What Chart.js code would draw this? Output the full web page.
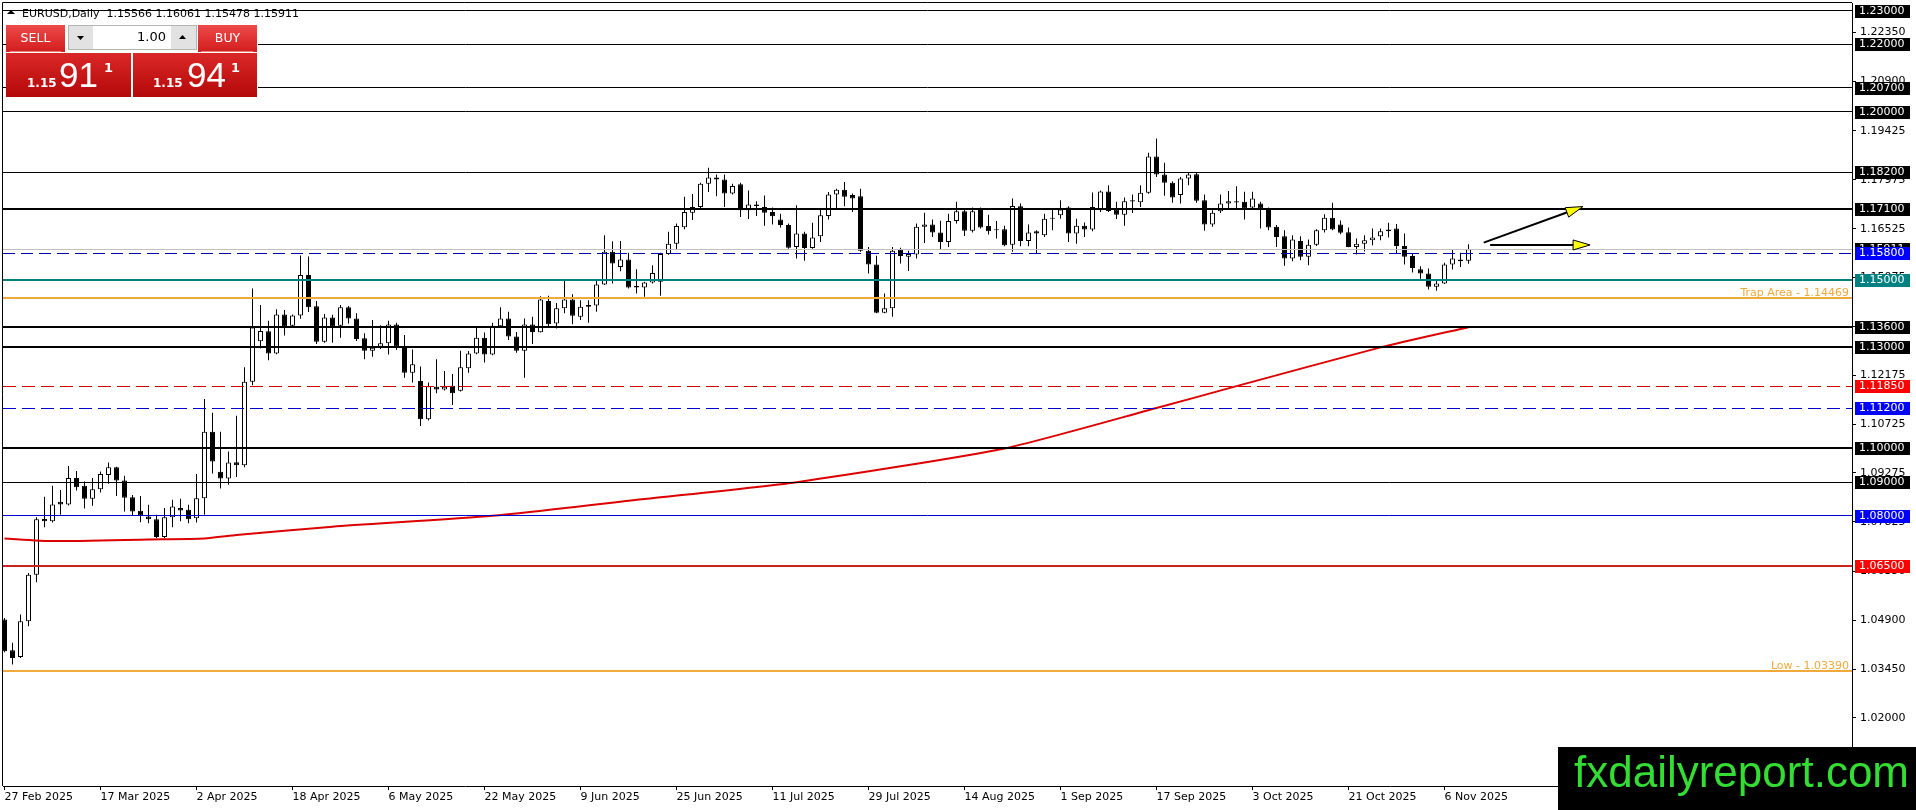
<!DOCTYPE html>
<html>
<head>
<meta charset="utf-8">
<title>EURUSD Daily</title>
<script src="https://cdn.jsdelivr.net/npm/chart.js@4.4.1/dist/chart.umd.min.js"></script>
<style>
  html, body { margin: 0; padding: 0; background: #ffffff; }
  #chart { display: block; width: 1916px; height: 810px; }
</style>
</head>
<body>
<canvas id="chart" width="1916" height="810"></canvas>
<script>
// header line
const symbolTitle = 'EURUSD,Daily  1.15566 1.16061 1.15478 1.15911';

// date labels every 12 bars
const xTickBars = [0, 12, 24, 36, 48, 60, 72, 84, 96, 108, 120, 132, 144, 156, 168, 180];
const xTickLabels = ['27 Feb 2025', '17 Mar 2025', '2 Apr 2025', '18 Apr 2025', '6 May 2025', '22 May 2025',
  '9 Jun 2025', '25 Jun 2025', '11 Jul 2025', '29 Jul 2025', '14 Aug 2025', '1 Sep 2025',
  '17 Sep 2025', '3 Oct 2025', '21 Oct 2025', '6 Nov 2025'];

// price scale ticks
const yTickValues = [1.02000, 1.03450, 1.04900, 1.06350, 1.07825, 1.09275, 1.10725, 1.12175,
  1.13625, 1.15075, 1.16525, 1.17975, 1.19425, 1.20900, 1.22350];

// daily candles, oldest first
const opens = [
  1.0492, 1.0401, 1.0381, 1.0487, 1.0625, 1.0791, 1.0784, 1.0842, 1.0834, 1.0912,
  1.0889, 1.0851, 1.0879, 1.0921, 1.0944, 1.0905, 1.0855, 1.0815, 1.0798, 1.0790,
  1.0737, 1.0796, 1.0823, 1.0818, 1.0793, 1.0852, 1.1050, 1.0931, 1.0911, 1.0959,
  1.0950, 1.1198, 1.1318, 1.1348, 1.1282, 1.1398, 1.1364, 1.1395, 1.1515, 1.1422,
  1.1317, 1.1389, 1.1364, 1.1419, 1.1386, 1.1327, 1.1290, 1.1302, 1.1312, 1.1368,
  1.1302, 1.1225, 1.1200, 1.1087, 1.1183, 1.1175, 1.1186, 1.1171, 1.1238, 1.1282,
  1.1329, 1.1279, 1.1363, 1.1386, 1.1332, 1.1290, 1.1368, 1.1345, 1.1438, 1.1371,
  1.1416, 1.1442, 1.1391, 1.1421, 1.1424, 1.1487, 1.1584, 1.1539, 1.1561, 1.1482,
  1.1478, 1.1493, 1.1495, 1.1577, 1.1608, 1.1657, 1.1700, 1.1717, 1.1786, 1.1804,
  1.1798, 1.1757, 1.1784, 1.1707, 1.1724, 1.1717, 1.1702, 1.1680, 1.1663, 1.1598,
  1.1638, 1.1595, 1.1630, 1.1690, 1.1754, 1.1768, 1.1752, 1.1749, 1.1587, 1.1546,
  1.1403, 1.1416, 1.1591, 1.1569, 1.1576, 1.1658, 1.1665, 1.1641, 1.1613, 1.1675,
  1.1704, 1.1646, 1.1712, 1.1660, 1.1651, 1.1651, 1.1605, 1.1719, 1.1616, 1.1645,
  1.1633, 1.1685, 1.1692, 1.1715, 1.1638, 1.1661, 1.1650, 1.1707, 1.1763, 1.1709,
  1.1694, 1.1737, 1.1731, 1.1759, 1.1867, 1.1813, 1.1789, 1.1752, 1.1801, 1.1814,
  1.1737, 1.1665, 1.1704, 1.1727, 1.1734, 1.1732, 1.1715, 1.1727, 1.1712, 1.1658,
  1.1630, 1.1564, 1.1616, 1.1569, 1.1605, 1.1648, 1.1685, 1.1665, 1.1642, 1.1598,
  1.1608, 1.1618, 1.1630, 1.1645, 1.1653, 1.1601, 1.1571, 1.1532, 1.1519, 1.1480,
  1.1490, 1.1546, 1.1561, 1.1557
];
const highs = [
  1.0497, 1.0423, 1.0507, 1.0630, 1.0796, 1.0857, 1.0889, 1.0877, 1.0948, 1.0933,
  1.0902, 1.0912, 1.0932, 1.0958, 1.0946, 1.0919, 1.0862, 1.0859, 1.0833, 1.0803,
  1.0823, 1.0848, 1.0851, 1.0833, 1.0924, 1.1147, 1.1106, 1.1050, 1.0991, 1.1097,
  1.1241, 1.1475, 1.1426, 1.1379, 1.1413, 1.1411, 1.1398, 1.1573, 1.1570, 1.1438,
  1.1399, 1.1397, 1.1426, 1.1423, 1.1401, 1.1342, 1.1381, 1.1366, 1.1379, 1.1373,
  1.1337, 1.1294, 1.1243, 1.1196, 1.1265, 1.1230, 1.1221, 1.1290, 1.1289, 1.1358,
  1.1344, 1.1373, 1.1419, 1.1406, 1.1346, 1.1386, 1.1391, 1.1452, 1.1453, 1.1432,
  1.1498, 1.1458, 1.1440, 1.1440, 1.1500, 1.1633, 1.1615, 1.1616, 1.1581, 1.1532,
  1.1495, 1.1544, 1.1581, 1.1643, 1.1668, 1.1747, 1.1755, 1.1789, 1.1833, 1.1813,
  1.1813, 1.1786, 1.1789, 1.1766, 1.1734, 1.1751, 1.1715, 1.1697, 1.1668, 1.1722,
  1.1643, 1.1670, 1.1714, 1.1761, 1.1771, 1.1791, 1.1757, 1.1771, 1.1598, 1.1572,
  1.1460, 1.1598, 1.1596, 1.1587, 1.1668, 1.1700, 1.1680, 1.1676, 1.1697, 1.1732,
  1.1714, 1.1715, 1.1715, 1.1694, 1.1675, 1.1661, 1.1742, 1.1727, 1.1665, 1.1648,
  1.1697, 1.1709, 1.1737, 1.1719, 1.1682, 1.1671, 1.1760, 1.1766, 1.1781, 1.1732,
  1.1745, 1.1754, 1.1781, 1.1878, 1.1920, 1.1848, 1.1793, 1.1806, 1.1819, 1.1819,
  1.1754, 1.1707, 1.1754, 1.1764, 1.1778, 1.1762, 1.1762, 1.1732, 1.1715, 1.1663,
  1.1648, 1.1633, 1.1630, 1.1620, 1.1651, 1.1695, 1.1729, 1.1677, 1.1656, 1.1623,
  1.1633, 1.1653, 1.1653, 1.1670, 1.1666, 1.1638, 1.1579, 1.1541, 1.1534, 1.1500,
  1.1551, 1.1590, 1.1581, 1.1606
];
const lows = [
  1.0395, 1.0359, 1.0378, 1.0472, 1.0603, 1.0766, 1.0780, 1.0803, 1.0831, 1.0875,
  1.0822, 1.0830, 1.0869, 1.0895, 1.0859, 1.0813, 1.0800, 1.0781, 1.0778, 1.0734,
  1.0734, 1.0766, 1.0784, 1.0778, 1.0780, 1.0803, 1.0926, 1.0881, 1.0892, 1.0915,
  1.0944, 1.1188, 1.1297, 1.1262, 1.1280, 1.1335, 1.1362, 1.1385, 1.1405, 1.1310,
  1.1314, 1.1314, 1.1329, 1.1371, 1.1319, 1.1265, 1.1272, 1.1295, 1.1279, 1.1292,
  1.1210, 1.1196, 1.1067, 1.1083, 1.1164, 1.1172, 1.1129, 1.1169, 1.1225, 1.1280,
  1.1255, 1.1277, 1.1361, 1.1322, 1.1284, 1.1210, 1.1310, 1.1344, 1.1361, 1.1356,
  1.1401, 1.1369, 1.1381, 1.1373, 1.1406, 1.1485, 1.1490, 1.1526, 1.1475, 1.1460,
  1.1450, 1.1490, 1.1453, 1.1575, 1.1591, 1.1651, 1.1678, 1.1714, 1.1761, 1.1749,
  1.1717, 1.1754, 1.1687, 1.1681, 1.1690, 1.1661, 1.1665, 1.1656, 1.1593, 1.1564,
  1.1557, 1.1593, 1.1613, 1.1680, 1.1712, 1.1719, 1.1702, 1.1584, 1.1519, 1.1401,
  1.1401, 1.1391, 1.1549, 1.1527, 1.1564, 1.1610, 1.1628, 1.1591, 1.1598, 1.1668,
  1.1631, 1.1641, 1.1653, 1.1635, 1.1623, 1.1600, 1.1584, 1.1600, 1.1600, 1.1577,
  1.1628, 1.1648, 1.1682, 1.1613, 1.1608, 1.1628, 1.1645, 1.1702, 1.1702, 1.1681,
  1.1661, 1.1699, 1.1717, 1.1756, 1.1806, 1.1750, 1.1729, 1.1727, 1.1781, 1.1729,
  1.1646, 1.1658, 1.1699, 1.1712, 1.1712, 1.1680, 1.1712, 1.1653, 1.1648, 1.1598,
  1.1542, 1.1556, 1.1559, 1.1544, 1.1601, 1.1641, 1.1648, 1.1636, 1.1597, 1.1576,
  1.1585, 1.1603, 1.1618, 1.1626, 1.1579, 1.1546, 1.1522, 1.1504, 1.1472, 1.1468,
  1.1488, 1.1531, 1.1539, 1.1548
];
const closes = [
  1.0398, 1.0378, 1.0487, 1.0625, 1.0790, 1.0784, 1.0834, 1.0834, 1.0912, 1.0885,
  1.0851, 1.0879, 1.0924, 1.0944, 1.0905, 1.0854, 1.0813, 1.0801, 1.0790, 1.0737,
  1.0796, 1.0828, 1.0816, 1.0790, 1.0852, 1.1050, 1.0961, 1.0911, 1.0958, 1.0950,
  1.1198, 1.1359, 1.1349, 1.1282, 1.1398, 1.1361, 1.1395, 1.1515, 1.1419, 1.1317,
  1.1389, 1.1361, 1.1419, 1.1386, 1.1325, 1.1290, 1.1299, 1.1312, 1.1368, 1.1302,
  1.1225, 1.1250, 1.1087, 1.1185, 1.1175, 1.1183, 1.1164, 1.1241, 1.1282, 1.1329,
  1.1279, 1.1364, 1.1386, 1.1332, 1.1290, 1.1368, 1.1346, 1.1442, 1.1369, 1.1416,
  1.1442, 1.1394, 1.1421, 1.1426, 1.1487, 1.1584, 1.1549, 1.1561, 1.1478, 1.1478,
  1.1493, 1.1521, 1.1577, 1.1608, 1.1660, 1.1702, 1.1717, 1.1786, 1.1804, 1.1798,
  1.1757, 1.1779, 1.1707, 1.1724, 1.1720, 1.1700, 1.1689, 1.1663, 1.1596, 1.1638,
  1.1595, 1.1626, 1.1692, 1.1754, 1.1768, 1.1747, 1.1742, 1.1587, 1.1546, 1.1403,
  1.1416, 1.1587, 1.1571, 1.1577, 1.1658, 1.1665, 1.1641, 1.1613, 1.1675, 1.1704,
  1.1646, 1.1704, 1.1656, 1.1645, 1.1648, 1.1603, 1.1720, 1.1616, 1.1641, 1.1638,
  1.1682, 1.1682, 1.1709, 1.1638, 1.1661, 1.1650, 1.1717, 1.1763, 1.1705, 1.1694,
  1.1734, 1.1733, 1.1759, 1.1867, 1.1813, 1.1789, 1.1745, 1.1801, 1.1813, 1.1735,
  1.1665, 1.1700, 1.1727, 1.1734, 1.1730, 1.1712, 1.1742, 1.1712, 1.1656, 1.1628,
  1.1564, 1.1620, 1.1569, 1.1605, 1.1648, 1.1685, 1.1650, 1.1640, 1.1598, 1.1608,
  1.1618, 1.1626, 1.1645, 1.1650, 1.1601, 1.1569, 1.1536, 1.1519, 1.1480, 1.1490,
  1.1546, 1.1564, 1.1556, 1.1591
];

// red moving average, read at a few bars
const maBars = [0, 6, 18, 25, 29, 41, 61, 80, 99, 125, 144, 154, 172, 183];
const maValues = [1.0733, 1.0725, 1.0730, 1.0733, 1.0743, 1.0768, 1.0800, 1.0850, 1.0900,
  1.1000, 1.1120, 1.1185, 1.1300, 1.1360];

// horizontal levels (the 1.15911 one is the bid line)
const levelValues = [1.23, 1.22, 1.207, 1.20, 1.182, 1.171, 1.15911, 1.158, 1.15, 1.14469,
  1.136, 1.13, 1.1185, 1.112, 1.10, 1.09, 1.08, 1.065, 1.0339];
const levelNotes = ['', '', '', '', '', '', '', '', '', 'Trap Area - 1.14469',
  '', '', '', '', '', '', '', '', 'Low - 1.03390'];

// the two yellow-headed arrows
const arrowStartBars = [184.9, 185.7];
const arrowStartPrices = [1.1611, 1.1604];
const arrowEndBars = [197.3, 198.2];
const arrowEndPrices = [1.1718, 1.1604];

// styles for the levels, same order as levelValues
const ORANGE = '#f2a93b';
const levelLook = [
  { color: '#000000', width: 1, dash: [], box: '#000000' },
  { color: '#000000', width: 1, dash: [], box: '#000000' },
  { color: '#000000', width: 1, dash: [], box: '#000000' },
  { color: '#000000', width: 1, dash: [], box: '#000000' },
  { color: '#000000', width: 1, dash: [], box: '#000000' },
  { color: '#000000', width: 2, dash: [], box: '#000000' },
  { color: '#c0c0c0', width: 1, dash: [], box: '#000000' },
  { color: '#0000aa', width: 1, dash: [12, 6], box: '#0000ff' },
  { color: '#008080', width: 2, dash: [], box: '#008080' },
  { color: ORANGE, width: 2, dash: [], box: null },
  { color: '#000000', width: 2, dash: [], box: '#000000' },
  { color: '#000000', width: 2, dash: [], box: '#000000' },
  { color: '#cc0000', width: 1, dash: [13, 6], box: '#ff0000' },
  { color: '#0000cc', width: 1, dash: [13, 6], box: '#0000ff' },
  { color: '#000000', width: 2, dash: [], box: '#000000' },
  { color: '#000000', width: 1, dash: [], box: '#000000' },
  { color: '#0000cc', width: 1, dash: [], box: '#0000ff' },
  { color: '#cc2222', width: 2, dash: [], box: '#ff0000' },
  { color: ORANGE, width: 2, dash: [], box: null }
];

const FONT = '"DejaVu Sans", Verdana, sans-serif';
const xMin = -0.1875, xMax = 230.9375;
const yMin = 0.999813, yMax = 1.2322262;

const bodies = opens.map((o, i) => ({ x: i, y: [o, closes[i]] }));
const wicks = lows.map((l, i) => ({ x: i, y: [l, highs[i]] }));
const bodyFill = opens.map((o, i) => (closes[i] >= o ? '#ffffff' : '#000000'));
const maPoints = maBars.map((b, k) => ({ x: b, y: maValues[k] }));

function crisp(y, w) {
  return w % 2 === 1 ? Math.round(y - 0.5) + 0.5 : Math.round(y);
}

function drawArrow(ctx, x1, y1, x2, y2) {
  const len = Math.hypot(x2 - x1, y2 - y1);
  const ux = (x2 - x1) / len, uy = (y2 - y1) / len;
  const head = 17, half = 5;
  const bx = x2 - ux * head, by = y2 - uy * head;
  ctx.strokeStyle = '#000000';
  ctx.lineWidth = 2;
  ctx.beginPath();
  ctx.moveTo(x1, y1);
  ctx.lineTo(bx + ux * 2, by + uy * 2);
  ctx.stroke();
  ctx.beginPath();
  ctx.moveTo(x2, y2);
  ctx.lineTo(bx - uy * half, by + ux * half);
  ctx.lineTo(bx + uy * half, by - ux * half);
  ctx.closePath();
  ctx.fillStyle = '#ffff00';
  ctx.fill();
  ctx.lineWidth = 1;
  ctx.stroke();
}

function drawTradePanel(ctx) {
  ctx.save();
  ctx.fillStyle = '#ffffff';
  ctx.fillRect(6, 25, 252, 73);

  const btnGrad = ctx.createLinearGradient(0, 25, 0, 52);
  btnGrad.addColorStop(0, '#ee4a4a');
  btnGrad.addColorStop(1, '#d21d1d');
  ctx.fillStyle = btnGrad;
  ctx.fillRect(6, 25, 59, 27);
  ctx.fillRect(198, 25, 59, 27);
  ctx.fillStyle = 'rgba(255,255,255,0.45)';
  ctx.fillRect(10, 51, 51, 1);
  ctx.fillRect(201, 51, 52, 1);

  // lot size spinner
  ctx.fillStyle = '#e2e2e2';
  ctx.fillRect(68, 25, 129, 25);
  ctx.fillStyle = '#ffffff';
  ctx.fillRect(93, 26, 78, 23);
  ctx.strokeStyle = '#b4b4b4';
  ctx.lineWidth = 1;
  ctx.strokeRect(68.5, 25.5, 128, 24);
  ctx.fillStyle = '#000000';
  ctx.beginPath();
  ctx.moveTo(77, 36); ctx.lineTo(84, 36); ctx.lineTo(80.5, 40); ctx.closePath(); ctx.fill();
  ctx.beginPath();
  ctx.moveTo(179, 39); ctx.lineTo(186, 39); ctx.lineTo(182.5, 35); ctx.closePath(); ctx.fill();

  ctx.fillStyle = '#ffffff';
  ctx.font = '12.5px ' + FONT;
  ctx.textBaseline = 'middle';
  ctx.textAlign = 'center';
  ctx.fillText('SELL', 35.5, 39);
  ctx.fillText('BUY', 227.5, 39);
  ctx.fillStyle = '#000000';
  ctx.textAlign = 'right';
  ctx.font = '13px ' + FONT;
  ctx.fillText('1.00', 166, 38);

  // price tiles
  const tileGrad = ctx.createLinearGradient(0, 53, 0, 97);
  tileGrad.addColorStop(0, '#da2828');
  tileGrad.addColorStop(1, '#b40808');
  ctx.fillStyle = tileGrad;
  ctx.fillRect(6, 53, 125, 44);
  ctx.fillRect(133, 53, 124, 44);

  ctx.fillStyle = '#ffffff';
  ctx.textAlign = 'left';
  ctx.textBaseline = 'alphabetic';
  ctx.font = 'bold 12px ' + FONT;
  ctx.fillText('1.15', 27, 87);
  ctx.fillText('1.15', 153, 87);
  ctx.font = '35px "Liberation Sans", Arial, sans-serif';
  ctx.fillText('91', 59, 87);
  ctx.fillText('94', 187, 87);
  ctx.font = 'bold 13px ' + FONT;
  ctx.fillText('1', 104, 72);
  ctx.fillText('1', 231, 72);
  ctx.restore();
}

const mtOverlay = {
  id: 'mtOverlay',
  afterDatasetsDraw(chart) {
    const { ctx, chartArea: a, scales: { x, y } } = chart;
    ctx.save();
    ctx.beginPath();
    ctx.rect(a.left, a.top, a.right - a.left, a.bottom - a.top);
    ctx.clip();
    levelValues.forEach((v, k) => {
      const look = levelLook[k];
      const py = crisp(y.getPixelForValue(v), look.width);
      ctx.strokeStyle = look.color;
      ctx.lineWidth = look.width;
      ctx.setLineDash(look.dash);
      ctx.beginPath();
      ctx.moveTo(a.left, py);
      ctx.lineTo(a.right, py);
      ctx.stroke();
      if (levelNotes[k]) {
        ctx.setLineDash([]);
        ctx.fillStyle = look.color;
        ctx.font = '11px ' + FONT;
        ctx.textAlign = 'right';
        ctx.textBaseline = 'alphabetic';
        ctx.fillText(levelNotes[k], a.right - 3, py - 2);
      }
    });
    ctx.setLineDash([]);
    arrowStartBars.forEach((b, k) => {
      drawArrow(ctx,
        x.getPixelForValue(b), y.getPixelForValue(arrowStartPrices[k]),
        x.getPixelForValue(arrowEndBars[k]), y.getPixelForValue(arrowEndPrices[k]));
    });
    ctx.restore();
  },
  afterDraw(chart) {
    const { ctx, chartArea: a, scales: { y } } = chart;
    ctx.save();
    // frame left/top
    ctx.strokeStyle = '#000000';
    ctx.lineWidth = 1;
    ctx.beginPath();
    ctx.moveTo(2.5, a.bottom);
    ctx.lineTo(2.5, 2.5);
    ctx.lineTo(a.right, 2.5);
    ctx.stroke();

    // price boxes on the right scale
    ctx.font = '11px ' + FONT;
    ctx.textAlign = 'left';
    ctx.textBaseline = 'middle';
    levelValues.forEach((v, k) => {
      const look = levelLook[k];
      if (!look.box) return;
      const py = Math.round(y.getPixelForValue(v));
      ctx.fillStyle = look.box;
      ctx.fillRect(1855, py - 6, 55, 13);
      ctx.fillStyle = '#ffffff';
      ctx.fillText(v.toFixed(5), 1859, py + 0.5);
    });

    // header
    ctx.fillStyle = '#000000';
    ctx.beginPath();
    ctx.moveTo(7, 14); ctx.lineTo(15, 14); ctx.lineTo(11, 10); ctx.closePath(); ctx.fill();
    ctx.textBaseline = 'alphabetic';
    ctx.fillText(symbolTitle, 22, 17);

    drawTradePanel(ctx);

    // watermark
    ctx.fillStyle = '#000000';
    ctx.fillRect(1558, 747, 358, 63);
    ctx.fillStyle = '#33dd33';
    ctx.font = '44px "Liberation Sans", Arial, sans-serif';
    ctx.textBaseline = 'alphabetic';
    ctx.fillText('fxdailyreport.com', 1574, 787);
    ctx.restore();
  }
};

new Chart(document.getElementById('chart'), {
  type: 'bar',
  data: {
    datasets: [
      {
        type: 'line',
        label: 'MA',
        data: maPoints,
        borderColor: '#dd0000',
        borderWidth: 2,
        pointRadius: 0,
        tension: 0.2,
        fill: false
      },
      {
        label: 'Bodies',
        data: bodies,
        backgroundColor: bodyFill,
        borderColor: '#000000',
        borderWidth: 1,
        borderSkipped: false,
        barThickness: 5,
        grouped: false,
        inflateAmount: 0
      },
      {
        label: 'Wicks',
        data: wicks,
        backgroundColor: '#000000',
        borderWidth: 0,
        barThickness: 1,
        grouped: false,
        inflateAmount: 0
      }
    ]
  },
  options: {
    responsive: false,
    animation: false,
    devicePixelRatio: 1,
    layout: { padding: { left: 3, top: 3, right: 0, bottom: 0 } },
    plugins: { legend: { display: false }, tooltip: { enabled: false } },
    scales: {
      x: {
        type: 'linear',
        min: xMin,
        max: xMax,
        offset: false,
        grid: { display: true, drawOnChartArea: false, drawTicks: true, tickLength: 4, color: '#000000', offset: false },
        border: { display: true, color: '#000000', width: 1 },
        afterBuildTicks: (s) => { s.ticks = xTickBars.map(v => ({ value: v })); },
        afterFit: (s) => { s.height = 24; s.paddingLeft = 0; s.paddingRight = 0; },
        ticks: {
          autoSkip: false,
          maxRotation: 0,
          minRotation: 0,
          align: 'start',
          padding: 1,
          color: '#000000',
          font: { family: FONT, size: 11 },
          callback: (v, i) => xTickLabels[i]
        }
      },
      y: {
        position: 'right',
        min: yMin,
        max: yMax,
        grid: { display: true, drawOnChartArea: false, drawTicks: true, tickLength: 4, color: '#000000' },
        border: { display: true, color: '#000000', width: 1 },
        afterBuildTicks: (s) => { s.ticks = yTickValues.map(v => ({ value: v })); },
        afterFit: (s) => { s.width = 64; s.paddingTop = 0; s.paddingBottom = 0; },
        ticks: {
          autoSkip: false,
          padding: 4,
          color: '#000000',
          font: { family: FONT, size: 11 },
          callback: (v) => Number(v).toFixed(5)
        }
      }
    }
  },
  plugins: [mtOverlay]
});
</script>
</body>
</html>
